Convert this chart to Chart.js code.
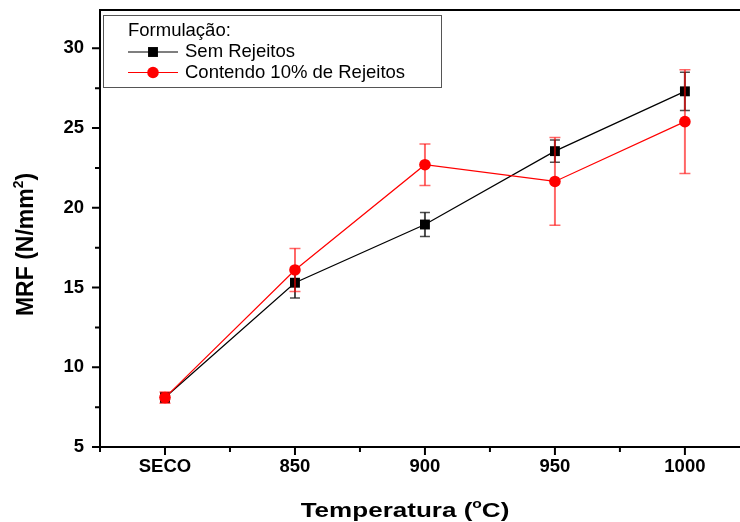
<!DOCTYPE html>
<html>
<head>
<meta charset="utf-8">
<script src="https://cdn.jsdelivr.net/npm/chart.js@4/dist/chart.umd.min.js"></script>
<style>
  html, body { margin: 0; padding: 0; background: #fff; }
  #wrap { width: 740px; height: 522px; }
</style>
</head>
<body>
<div id="wrap"><canvas id="mrfChart" width="740" height="522"></canvas></div>
<script>
// Values
const categories = ['SECO', '850', '900', '950', '1000'];
const semRejeitos = [8.1, 15.3, 18.95, 23.55, 27.3];
const semRejeitosErr = [0.3, 0.95, 0.75, 0.7, 1.2];
const contendo = [8.1, 16.1, 22.7, 21.65, 25.4];
const contendoErr = [0.35, 1.35, 1.3, 2.75, 3.25];
const yMajorTicks = [5, 10, 15, 20, 25, 30];
const yMinorTicks = [7.5, 12.5, 17.5, 22.5, 27.5];
const xMinorTicks = [-0.5, 0.5, 1.5, 2.5, 3.5];

const FONT = "'Liberation Sans', Arial, sans-serif";

function toPoints(values) {
    return values.map((v, i) => ({ x: i, y: v }));
}

// error bars drawn under each dataset's own line/markers
const errorBars = {
    id: 'errorBars',
    beforeDatasetDraw(chart, args) {
        const ds = chart.data.datasets[args.index];
        if (!ds.errors) return;
        const { ctx, scales: { x, y } } = chart;
        ctx.save();
        ctx.strokeStyle = ds.errorColor;
        ds.data.forEach((p, i) => {
            const px = x.getPixelForValue(p.x);
            const top = y.getPixelForValue(p.y + ds.errors[i]);
            const bot = y.getPixelForValue(p.y - ds.errors[i]);
            const half = ds.capWidth / 2;
            ctx.lineWidth = 2;
            ctx.beginPath();
            ctx.moveTo(px, top);
            ctx.lineTo(px, bot);
            ctx.stroke();
            ctx.lineWidth = 1.5;
            ctx.beginPath();
            ctx.moveTo(px - half, top);
            ctx.lineTo(px + half, top);
            ctx.moveTo(px - half, bot);
            ctx.lineTo(px + half, bot);
            ctx.stroke();
        });
        ctx.restore();
    }
};

// text with a superscript part, centred on cx, optionally widened
function drawRich(ctx, parts, size, cx, baseY, stretch = 1) {
    const widths = parts.map(p => {
        ctx.font = `bold ${p.sup ? size * 0.6 : size}px ${FONT}`;
        return ctx.measureText(p.t).width;
    });
    const total = widths.reduce((a, b) => a + b, 0);
    ctx.save();
    ctx.translate(cx, baseY);
    ctx.scale(stretch, 1);
    let xPos = -total / 2;
    parts.forEach((p, i) => {
        ctx.font = `bold ${p.sup ? size * 0.6 : size}px ${FONT}`;
        ctx.fillText(p.t, xPos, p.sup ? -size * 0.45 : 0);
        xPos += widths[i];
    });
    ctx.restore();
}

// frame lines, tick marks, axis titles and boxed legend
const decor = {
    id: 'decor',
    afterDraw(chart) {
        const { ctx, chartArea: a, scales: { x, y } } = chart;
        ctx.save();
        ctx.strokeStyle = '#000';
        ctx.fillStyle = '#000';
        ctx.lineWidth = 2;

        // frame runs off the right edge in the original
        ctx.beginPath();
        ctx.moveTo(a.left - 1, a.top);
        ctx.lineTo(chart.width, a.top);
        ctx.moveTo(a.right - 1, a.bottom);
        ctx.lineTo(chart.width, a.bottom);
        ctx.stroke();

        ctx.beginPath();
        yMajorTicks.forEach(v => {
            const py = y.getPixelForValue(v);
            ctx.moveTo(a.left - 8, py);
            ctx.lineTo(a.left, py);
        });
        yMinorTicks.forEach(v => {
            const py = y.getPixelForValue(v);
            ctx.moveTo(a.left - 5, py);
            ctx.lineTo(a.left, py);
        });
        categories.forEach((c, i) => {
            const px = x.getPixelForValue(i);
            ctx.moveTo(px, a.bottom);
            ctx.lineTo(px, a.bottom + 8);
        });
        xMinorTicks.forEach(v => {
            const px = x.getPixelForValue(v);
            ctx.moveTo(px, a.bottom);
            ctx.lineTo(px, a.bottom + 5);
        });
        ctx.stroke();

        // axis titles
        ctx.textAlign = 'left';
        ctx.textBaseline = 'alphabetic';
        drawRich(ctx, [{ t: 'Temperatura (' }, { t: 'o', sup: true }, { t: 'C)' }], 20.5, 405, 517, 1.27);
        ctx.save();
        ctx.translate(33, (a.top + a.bottom) / 2 + 16);
        ctx.rotate(-Math.PI / 2);
        drawRich(ctx, [{ t: 'MRF (N/mm' }, { t: '2', sup: true }, { t: ')' }], 23, 0, 0);
        ctx.restore();

        // legend
        const lx = a.left + 3, ly = a.top + 5;
        ctx.strokeStyle = '#555';
        ctx.lineWidth = 1;
        ctx.strokeRect(lx + 0.5, ly + 0.5, 338, 72);
        ctx.font = `18.5px ${FONT}`;
        ctx.fillStyle = '#000';
        ctx.textBaseline = 'middle';
        ctx.fillText('Formulação:', lx + 25, ly + 16);
        chart.data.datasets.forEach((ds, i) => {
            const rowY = ly + 37 + i * 20.5;
            ctx.strokeStyle = ds.borderColor;
            ctx.lineWidth = 1.2;
            ctx.beginPath();
            ctx.moveTo(lx + 25, rowY);
            ctx.lineTo(lx + 75, rowY);
            ctx.stroke();
            ctx.fillStyle = ds.pointBackgroundColor;
            Chart.helpers.drawPoint(ctx, {
                pointStyle: ds.pointStyle, radius: ds.pointRadius, rotation: 0, borderWidth: 0
            }, lx + 50, rowY);
            ctx.fillStyle = '#000';
            ctx.fillText(ds.label, lx + 82, rowY);
        });
        ctx.restore();
    }
};

new Chart(document.getElementById('mrfChart'), {
    type: 'line',
    data: {
        datasets: [{
            label: 'Sem Rejeitos',
            data: toPoints(semRejeitos),
            errors: semRejeitosErr,
            errorColor: 'rgba(0,0,0,0.7)',
            capWidth: 10,
            borderColor: '#000',
            borderWidth: 1.2,
            pointStyle: 'rect',
            pointRadius: 7,
            pointBackgroundColor: '#000',
            pointBorderWidth: 0,
            order: 2
        }, {
            label: 'Contendo 10% de Rejeitos',
            data: toPoints(contendo),
            errors: contendoErr,
            errorColor: 'rgba(255,0,0,0.6)',
            capWidth: 11,
            borderColor: '#ff0000',
            borderWidth: 1.2,
            pointStyle: 'circle',
            pointRadius: 5.8,
            pointBackgroundColor: '#ff0000',
            pointBorderWidth: 0,
            order: 1
        }]
    },
    options: {
        responsive: false,
        animation: false,
        devicePixelRatio: 1,
        layout: { padding: { top: 10, right: 0, left: 0, bottom: 0 } },
        plugins: { legend: { display: false }, tooltip: { enabled: false } },
        scales: {
            x: {
                type: 'linear',
                min: -0.5,
                max: 4.37,
                afterBuildTicks: s => { s.ticks = categories.map((c, i) => ({ value: i })); },
                afterFit: s => { s.height = 75; s.paddingLeft = 0; s.paddingRight = 0; },
                grid: { display: false, drawTicks: false },
                border: { display: true, color: '#000', width: 2 },
                ticks: {
                    color: '#000', padding: 9, autoSkip: false, maxRotation: 0,
                    font: { family: FONT, size: 18.5, weight: 'bold' },
                    callback: v => categories[v]
                }
            },
            y: {
                min: 5,
                max: 32.4,
                afterBuildTicks: s => { s.ticks = yMajorTicks.map(v => ({ value: v })); },
                afterFit: s => { s.width = 100; s.paddingTop = 0; s.paddingBottom = 0; },
                grid: { display: false, drawTicks: false },
                border: { display: true, color: '#000', width: 2 },
                ticks: {
                    color: '#000', padding: 16,
                    font: { family: FONT, size: 18.5, weight: 'bold' },
                    callback: v => v
                }
            }
        }
    },
    plugins: [errorBars, decor]
});
</script>
</body>
</html>
